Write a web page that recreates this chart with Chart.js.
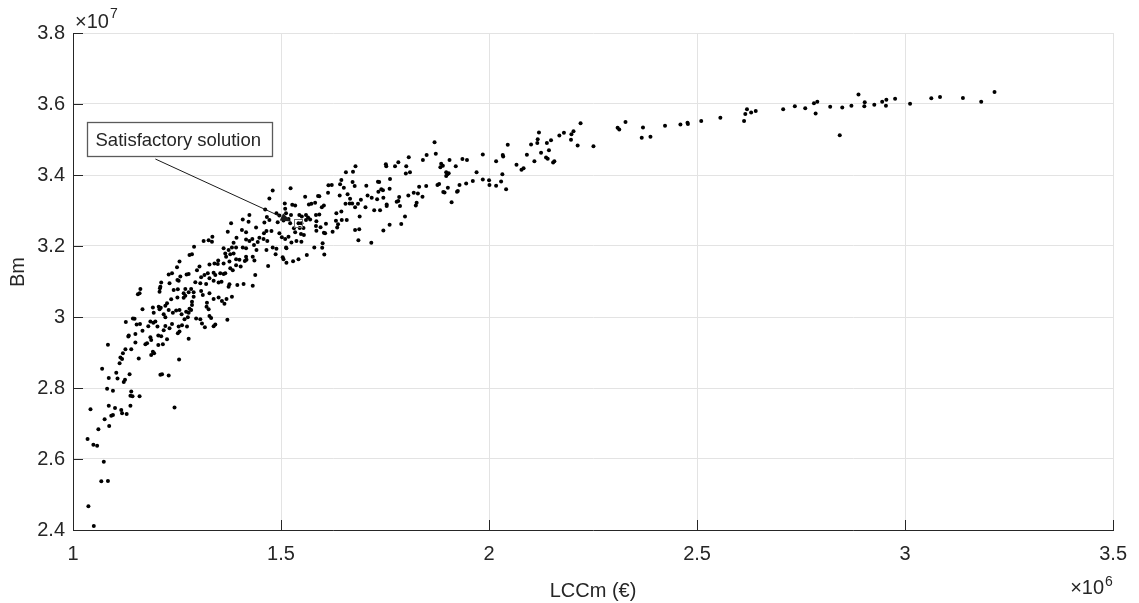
<!DOCTYPE html>
<html><head><meta charset="utf-8">
<script src="https://cdn.jsdelivr.net/npm/chart.js@4.4.1/dist/chart.umd.min.js"></script>
<style>html,body{margin:0;padding:0;background:#fff;}#wrap{width:1139px;height:603px;}</style>
</head><body><div id="wrap"><canvas id="c" width="1139" height="603"></canvas></div>
<script>
const xAxisLabel = 'LCCm (€)';
const yAxisLabel = 'Bm';
const xExponent = '6';
const yExponent = '7';
const xTicks = [1, 1.5, 2, 2.5, 3, 3.5];
const yTicks = [2.4, 2.6, 2.8, 3, 3.2, 3.4, 3.6, 3.8];

// LCCm values in units of 10^6 €
const lcc = [
2.820,2.849,2.843,2.871,2.888,2.903,2.902,2.926,2.945,2.955,2.954,2.976,3.012,3.063,3.084,3.139,3.183,3.215,
2.169,2.180,2.198,2.203,2.197,2.213,2.220,2.251,2.309,2.313,2.328,2.370,2.367,2.388,2.423,2.460,2.477,2.478,2.510,2.556,2.613,2.616,2.620,2.630,2.641,2.707,2.735,2.760,2.781,2.789,2.785,
1.985,2.017,2.033,2.034,2.045,1.985,2.000,2.001,2.017,2.029,2.032,2.041,2.066,2.078,2.083,2.091,2.101,2.109,2.116,2.117,2.120,2.125,2.137,2.141,2.139,2.144,2.149,2.154,2.157,
1.869,1.872,1.807,1.782,1.774,1.752,1.753,1.801,1.800,1.810,1.841,1.850,1.885,1.889,1.883,1.905,1.920,1.936,1.947,1.897,
1.900,1.903,1.897,1.970,1.961,1.945,1.929,1.923,1.925,1.910,1.901,1.893,1.890,1.876,1.880,1.849,1.832,1.840,1.829,1.826,
1.824,1.819,1.806,1.798,1.789,1.784,1.782,1.778,1.786,1.762,1.761,1.754,1.754,1.761,1.746,1.738,1.746,1.745,1.741,1.734,
1.731,1.736,1.733,1.724,1.718,1.708,1.705,1.717,1.703,1.692,1.689,1.688,1.686,1.685,1.678,1.678,1.679,1.673,1.672,1.677,
1.671,1.666,1.660,1.665,1.656,1.655,1.658,1.651,1.645,1.642,1.641,1.645,1.646,1.633,1.632,1.637,1.635,1.624,1.622,1.614,
1.613,1.603,1.608,1.603,1.606,1.595,1.598,1.592,1.600,1.599,1.604,1.592,
1.589,1.558,1.523,1.480,1.472,1.509,1.527,1.534,1.567,1.573,1.582,1.510,1.462,1.489,1.496,1.512,1.524,1.560,1.565,1.570,
1.584,1.506,1.518,1.522,1.542,1.549,1.560,1.531,1.545,1.554,1.585,1.585,1.424,1.422,1.408,1.460,1.466,1.472,1.492,1.440,
1.380,1.372,1.406,1.416,1.465,1.459,1.477,1.496,1.502,1.518,1.534,1.548,1.549,1.537,1.525,1.510,1.512,1.513,1.580,1.562,
1.542,1.529,1.513,1.506,1.504,1.487,1.489,1.480,1.465,1.467,1.458,1.444,1.448,1.431,1.424,1.416,1.435,1.441,1.416,1.408,
1.393,1.386,1.392,1.382,1.374,1.362,1.366,1.368,1.378,1.386,1.392,1.400,1.416,1.417,1.432,1.436,1.469,1.349,1.334,1.326,
1.314,1.335,1.291,1.286,1.280,
1.544,1.550,1.555,1.584,
1.256,1.250,1.230,1.238,1.258,1.254,1.251,1.278,1.273,1.298,1.304,1.328,1.340,1.348,1.362,1.376,1.392,1.413,1.378,1.384,
1.403,1.338,1.342,1.324,1.316,1.308,1.328,1.354,1.362,1.366,1.357,1.350,1.338,1.306,1.294,1.320,1.376,1.374,1.395,1.410,
1.432,1.438,1.212,1.210,1.232,1.252,1.270,1.284,1.162,1.209,1.208,1.242,1.266,1.270,1.278,1.290,1.290,1.308,1.312,1.328,
1.338,1.350,1.358,1.364,1.369,1.382,1.322,1.321,1.326,1.286,1.280,1.284,1.272,1.286,1.266,1.251,1.236,1.226,1.222,1.211,
1.208,1.206,1.230,1.240,1.248,1.256,1.261,1.218,1.222,1.192,1.194,1.167,1.160,1.156,1.296,1.306,1.310,1.317,1.338,1.342,
1.371,1.328,1.332,1.278,1.276,1.268,1.274,1.262,1.256,1.254,1.238,1.222,1.218,1.232,1.252,1.278,1.203,1.198,1.193,1.186,
1.181,1.144,1.148,1.127,1.153,1.161,1.134,1.133,1.150,1.167,1.188,1.186,1.205,1.212,1.216,1.205,1.226,1.150,1.174,1.178,
1.140,1.084,1.126,1.120,1.114,1.118,1.158,1.192,1.195,1.188,1.255,1.112,1.070,1.104,1.136,1.086,1.107,1.125,1.122,1.210,
1.214,1.230,1.082,1.096,1.140,1.138,1.143,1.160,
1.042,1.035,1.049,1.058,1.074,1.068,1.084,1.037,1.050,1.061,1.076,1.087,1.086,1.092,1.096,1.101,1.116,1.118,1.129,1.138,1.244
];

// Bm values in units of 10^7
const bm = [
3.592,3.590,3.512,3.595,3.627,3.605,3.594,3.598,3.606,3.612,3.595,3.615,3.601,3.616,3.620,3.617,3.606,3.634,
3.511,3.519,3.515,3.523,3.499,3.483,3.546,3.481,3.533,3.528,3.549,3.534,3.505,3.508,3.539,3.542,3.547,3.544,3.552,3.561,3.552,3.572,3.585,3.576,3.580,3.585,3.594,3.588,3.602,3.606,3.573,
3.458,3.439,3.456,3.452,3.485,3.387,3.385,3.372,3.370,3.382,3.402,3.360,3.429,3.415,3.419,3.457,3.486,3.439,3.490,3.501,3.520,3.463,3.449,3.446,3.490,3.470,3.498,3.435,3.439,
3.492,3.460,3.450,3.436,3.425,3.430,3.425,3.425,3.404,3.408,3.442,3.456,3.432,3.426,3.422,3.442,3.425,3.445,3.442,3.408,
3.402,3.405,3.397,3.408,3.383,3.376,3.372,3.353,3.355,3.323,3.364,3.351,3.352,3.372,3.375,3.369,3.367,3.339,3.348,3.322,
3.314,3.350,3.342,3.283,3.262,3.338,3.327,3.325,3.313,3.389,3.361,3.317,3.313,3.260,3.244,3.301,3.336,3.357,3.360,3.353,
3.332,3.380,3.381,3.301,3.336,3.342,3.370,3.209,3.309,3.330,3.283,3.247,3.216,3.319,3.309,3.245,3.425,3.409,3.380,3.369,
3.320,3.333,3.346,3.320,3.408,3.319,3.273,3.364,3.386,3.374,3.342,3.297,3.273,3.292,3.271,3.261,3.252,3.240,3.372,3.371,
3.350,3.314,3.263,3.237,3.236,3.253,3.309,3.289,3.208,3.195,3.176,3.340,
3.341,3.339,3.363,3.356,3.334,3.320,3.316,3.314,3.317,3.319,3.322,3.305,3.303,3.292,3.286,3.292,3.287,3.287,3.280,3.275,
3.287,3.272,3.276,3.264,3.264,3.264,3.273,3.250,3.251,3.251,3.270,3.243,3.287,3.268,3.275,3.266,3.282,3.273,3.267,3.252,
3.264,3.240,3.245,3.239,3.242,3.236,3.242,3.236,3.225,3.226,3.239,3.234,3.212,3.214,3.210,3.220,3.196,3.194,3.196,3.175,
3.163,3.157,3.153,3.163,3.168,3.177,3.192,3.196,3.189,3.214,3.220,3.211,3.223,3.220,3.214,3.218,3.203,3.189,3.194,3.196,
3.223,3.209,3.196,3.196,3.189,3.194,3.179,3.170,3.177,3.179,3.163,3.161,3.170,3.161,3.170,3.159,3.144,3.159,3.212,3.216,
3.214,3.226,3.198,3.177,3.175,
3.287,3.283,3.231,3.256,
3.156,3.140,3.120,3.123,3.114,3.102,3.104,3.121,3.120,3.132,3.142,3.148,3.151,3.149,3.151,3.156,3.146,3.158,3.137,3.132,
3.142,3.125,3.118,3.123,3.118,3.112,3.109,3.123,3.121,3.123,3.099,3.097,3.102,3.095,3.098,3.093,3.092,3.085,3.090,3.093,
3.088,3.118,3.097,3.085,3.095,3.078,3.079,3.079,3.079,3.081,3.071,3.076,3.067,3.060,3.070,3.070,3.057,3.073,3.062,3.067,
3.051,3.055,3.045,3.037,3.051,3.057,3.040,3.029,3.022,3.043,3.023,3.020,3.015,3.034,3.054,3.055,3.050,3.039,3.032,3.026,
3.022,3.029,3.020,3.012,3.018,3.020,3.008,3.008,2.999,3.027,3.012,3.022,3.067,3.064,2.996,2.994,2.982,2.971,2.974,2.979,
2.992,3.003,2.997,3.012,2.999,2.994,2.973,2.977,2.959,2.973,2.980,2.975,2.963,2.968,2.954,2.939,2.973,2.987,2.984,2.987,
2.974,2.996,2.995,2.986,2.979,2.980,2.948,2.945,2.952,2.961,2.935,2.943,2.948,2.946,2.923,2.921,2.937,2.928,2.923,2.926,
2.909,2.922,2.909,2.898,2.886,2.882,2.883,2.902,2.898,2.893,2.880,2.870,2.854,2.843,2.839,2.828,2.827,2.823,2.817,2.837,
2.839,2.835,2.798,2.792,2.790,2.778,2.777,2.777,
2.740,2.656,2.640,2.637,2.592,2.537,2.538,2.467,2.411,2.684,2.712,2.693,2.750,2.722,2.724,2.744,2.738,2.729,2.727,2.750,2.745
];

// annotation (data coordinates)
const noteText = 'Satisfactory solution';
const noteBox = {x0: 1.0345, x1: 1.4775, y0: 3.550, y1: 3.454};
const arrowFrom = {x: 1.198, y: 3.445};
const arrowTo = {x: 1.525, y: 3.269};
const chosen = {x: 1.542, y: 3.266};

const FONT = '"Liberation Sans", Arial, Helvetica, sans-serif';
const INK = '#262626';

const deco = {
  id: 'deco',
  afterDraw(chart) {
    const {ctx, chartArea: a, scales: {x, y}} = chart;
    ctx.save();
    // inward tick marks
    ctx.strokeStyle = INK; ctx.lineWidth = 1;
    ctx.beginPath();
    yTicks.forEach(v => { const p = Math.round(y.getPixelForValue(v)) + 0.5; ctx.moveTo(a.left, p); ctx.lineTo(a.left + 10, p); });
    xTicks.forEach(v => { const p = Math.round(x.getPixelForValue(v)) + 0.5; ctx.moveTo(p, a.bottom); ctx.lineTo(p, a.bottom - 10); });
    ctx.stroke();

    // exponent multipliers
    ctx.fillStyle = INK; ctx.textAlign = 'left'; ctx.textBaseline = 'alphabetic';
    ctx.font = '20px ' + FONT;
    ctx.fillText('×10', a.left + 2, 28);
    let w = ctx.measureText('×10').width;
    ctx.font = '14px ' + FONT;
    ctx.fillText(yExponent, a.left + 2 + w + 1, 18);
    ctx.font = '20px ' + FONT;
    w = ctx.measureText('×10').width;
    ctx.fillText('×10', a.right - w - 9, 594);
    ctx.font = '14px ' + FONT;
    ctx.fillText(xExponent, a.right - 8, 586);

    // axis titles
    ctx.font = '20px ' + FONT;
    ctx.textAlign = 'center';
    ctx.fillText(xAxisLabel, (a.left + a.right) / 2, 597);
    ctx.save();
    ctx.translate(24, 272);
    ctx.rotate(-Math.PI / 2);
    ctx.fillText(yAxisLabel, 0, 0);
    ctx.restore();

    // annotation box
    const bx0 = Math.round(x.getPixelForValue(noteBox.x0)) + 0.5, bx1 = Math.round(x.getPixelForValue(noteBox.x1)) + 0.5;
    const by0 = Math.round(y.getPixelForValue(noteBox.y0)) + 0.5, by1 = Math.round(y.getPixelForValue(noteBox.y1)) + 0.5;
    ctx.fillStyle = '#fff';
    ctx.fillRect(bx0, by0, bx1 - bx0, by1 - by0);
    ctx.strokeStyle = '#5a5a5a'; ctx.lineWidth = 1.3;
    ctx.strokeRect(bx0, by0, bx1 - bx0, by1 - by0);
    ctx.fillStyle = INK; ctx.textAlign = 'left'; ctx.textBaseline = 'middle';
    ctx.font = '18.5px ' + FONT;
    ctx.fillText(noteText, bx0 + 8, (by0 + by1) / 2 + 1);

    // arrow
    const sx = x.getPixelForValue(arrowFrom.x), sy = y.getPixelForValue(arrowFrom.y);
    const tx = x.getPixelForValue(arrowTo.x), ty = y.getPixelForValue(arrowTo.y);
    const ang = Math.atan2(ty - sy, tx - sx);
    const hl = 11, hw = 4;
    ctx.strokeStyle = '#1a1a1a'; ctx.lineWidth = 1;
    ctx.beginPath(); ctx.moveTo(sx, sy);
    ctx.lineTo(tx - hl * Math.cos(ang), ty - hl * Math.sin(ang)); ctx.stroke();
    ctx.fillStyle = '#1a1a1a';
    ctx.beginPath();
    ctx.moveTo(tx, ty);
    ctx.lineTo(tx - hl * Math.cos(ang) + hw * Math.sin(ang), ty - hl * Math.sin(ang) - hw * Math.cos(ang));
    ctx.lineTo(tx - hl * Math.cos(ang) - hw * Math.sin(ang), ty - hl * Math.sin(ang) + hw * Math.cos(ang));
    ctx.closePath(); ctx.fill();

    // chosen solution marker
    const cx = x.getPixelForValue(chosen.x), cy = y.getPixelForValue(chosen.y);
    ctx.strokeStyle = '#707070'; ctx.lineWidth = 1;
    ctx.strokeRect(Math.round(cx - 4) + 0.5, Math.round(cy - 4) + 0.5, 8, 8);
    ctx.restore();
  }
};

const fmt = v => String(Math.round(v * 10) / 10);

new Chart(document.getElementById('c'), {
  type: 'scatter',
  data: {
    datasets: [{
      data: lcc.map((v, i) => ({x: v, y: bm[i]})),
      pointRadius: 2, pointHoverRadius: 2, borderWidth: 0,
      backgroundColor: '#000', pointStyle: 'circle'
    }]
  },
  options: {
    responsive: false, animation: false, events: [],
    layout: {padding: {top: 33, right: 24, left: 0, bottom: 0}},
    plugins: {legend: {display: false}, tooltip: {enabled: false}},
    scales: {
      x: {
        type: 'linear', min: 1, max: 3.5,
        afterBuildTicks: s => { s.ticks = xTicks.map(v => ({value: v})); },
        afterFit: s => { s.height = 73; },
        grid: {color: '#e3e3e3', lineWidth: 1, drawTicks: false},
        border: {color: INK, width: 1},
        ticks: {padding: 12, color: INK, font: {family: FONT, size: 20}, callback: fmt, maxRotation: 0, autoSkip: false}
      },
      y: {
        type: 'linear', min: 2.4, max: 3.8,
        afterBuildTicks: s => { s.ticks = yTicks.map(v => ({value: v})); },
        afterFit: s => { s.width = 73; },
        grid: {color: '#e3e3e3', lineWidth: 1, drawTicks: false},
        border: {color: INK, width: 1},
        ticks: {padding: 8, color: INK, font: {family: FONT, size: 20}, callback: fmt, autoSkip: false}
      }
    }
  },
  plugins: [deco]
});
</script></body></html>
